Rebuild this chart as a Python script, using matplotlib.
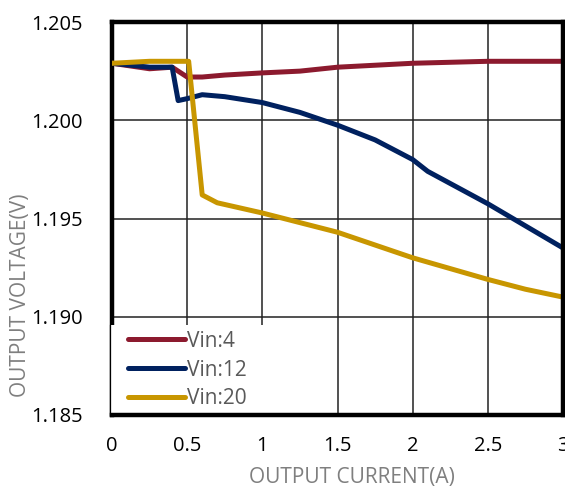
import matplotlib
matplotlib.use("Agg")
import matplotlib.pyplot as plt
from matplotlib.patches import Rectangle

# ---- data ----
x_vin4 = [0, 0.25, 0.4, 0.5, 0.6, 0.75, 1.0, 1.25, 1.5, 1.75, 2.0, 2.5, 3.0]
v_vin4 = [1.2029, 1.20262, 1.2027, 1.2022, 1.2022, 1.2023, 1.20241, 1.2025,
          1.2027, 1.2028, 1.2029, 1.2030, 1.2030]

x_vin12 = [0, 0.25, 0.4, 0.44, 0.5, 0.6, 0.75, 1.0, 1.25, 1.5, 1.75, 2.0,
           2.1, 2.5, 3.0]
v_vin12 = [1.2029, 1.2027, 1.2027, 1.2010, 1.2011, 1.2013, 1.2012, 1.2009,
           1.2004, 1.19975, 1.1990, 1.1980, 1.1974, 1.19575, 1.1935]

x_vin20 = [0, 0.25, 0.51, 0.6, 0.7, 1.0, 1.5, 2.0, 2.5, 2.75, 3.0]
v_vin20 = [1.2029, 1.2030, 1.2030, 1.1962, 1.1958, 1.19528, 1.1943, 1.1930,
           1.1919, 1.1914, 1.1910]

series_labels = ["Vin:4", "Vin:12", "Vin:20"]
x_ticks = [0, 0.5, 1, 1.5, 2, 2.5, 3]
x_tick_labels = ["0", "0.5", "1", "1.5", "2", "2.5", "3"]
y_ticks = [1.185, 1.190, 1.195, 1.200, 1.205]
y_tick_labels = ["1.185", "1.190", "1.195", "1.200", "1.205"]

colors = ["#8C1A2E", "#00215F", "#C89600"]

plt.rcParams['font.family'] = ['Open Sans', 'DejaVu Sans']

W, H = 565, 491
fig = plt.figure(figsize=(W/100, H/100), dpi=100)
ax = fig.add_axes([112/W, 1-415/H, (563-112)/W, (415-22)/H])

for xs, ys, c, lab in zip([x_vin4, x_vin12, x_vin20],
                          [v_vin4, v_vin12, v_vin20], colors, series_labels):
    ax.plot(xs, ys, color=c, lw=3.6, label=lab, solid_capstyle='round',
            solid_joinstyle='round', zorder=3)

ax.set_xlim(0, 3)
ax.set_ylim(1.185, 1.205)
ax.set_xticks(x_ticks)
ax.set_xticklabels(x_tick_labels)
ax.set_yticks(y_ticks)
ax.set_yticklabels(y_tick_labels)
ax.tick_params(length=0, labelsize=14.5, colors='black')
ax.tick_params(axis='y', pad=21)
ax.tick_params(axis='x', pad=15)
ax.grid(True, color='#222222', lw=1.1, zorder=1)
ax.set_axisbelow(True)

for s in ax.spines.values():
    s.set_linewidth(3.2)
    s.set_color('black')
    s.set_zorder(10)
ax.spines['left'].set_zorder(2.5)

# legend background box (white, thin left border only)
ax_w, ax_h = 563 - 112, 415 - 22
rect = Rectangle((-2/ax_w, 0), (268-110)/ax_w, (415-325)/ax_h,
                 transform=ax.transAxes, facecolor='white', edgecolor='none',
                 zorder=4, clip_on=False)
ax.add_patch(rect)
ax.plot([-2/ax_w, -2/ax_w], [0, (415-325)/ax_h], transform=ax.transAxes,
        color='black', lw=0.9, zorder=4.5, clip_on=False)

leg = ax.legend(loc='center left', bbox_to_anchor=(16/ax_w, (415-370)/ax_h),
                borderaxespad=0, borderpad=0, fontsize=15, frameon=False,
                handlelength=2.75, handletextpad=0.1, labelspacing=0.38)
leg.set_zorder(5)
for t in leg.get_texts():
    t.set_color('#595959')
for l in leg.get_lines():
    l.set_solid_capstyle('round')

fig.text(352/W, 1-478/H, "OUTPUT CURRENT(A)", ha='center', va='center',
         fontsize=15, color='#7f7f7f')
fig.text(21/W, 1-295/H, "OUTPUT VOLTAGE(V)", ha='center', va='center',
         rotation=90, fontsize=15, color='#7f7f7f')

fig.savefig("out.png", dpi=100)
